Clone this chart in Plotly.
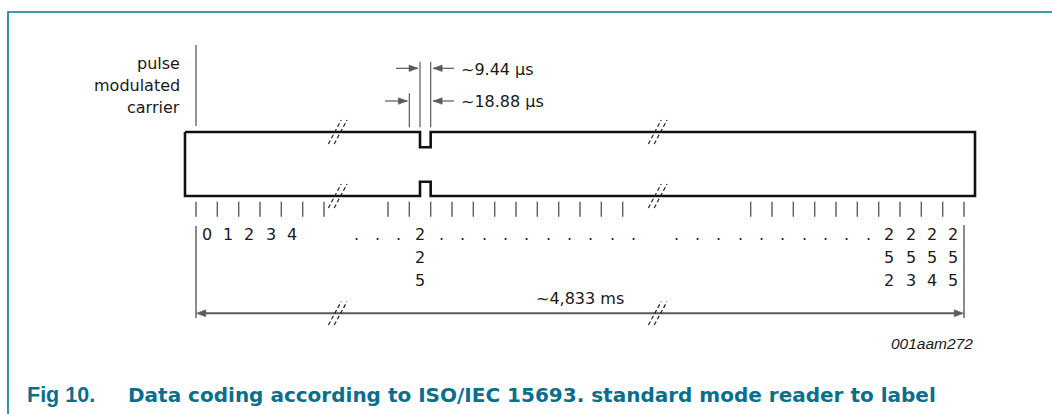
import plotly.graph_objects as go

# ------------------------------------------------------------------ data
first_labels = ["0", "1", "2", "3", "4"]          # first time slots
mid_label = "225"                                 # slot carrying the pulse
last_labels = ["252", "253", "254", "255"]        # last time slots
carrier_label = ["pulse", "modulated", "carrier"]
pulse_texts = ["~9.44 µs", "~18.88 µs"]
total_text = "~4,833 ms"
figure_id = "001aam272"
fig_number = "Fig 10."
fig_title = "Data coding according to ISO/IEC 15693. standard mode reader to label"

# slot grid of the drawing (boundary indices along the time axis)
n_boundaries = 36
first_slot = 0
mid_slot = 10
last_slot = 32
tick_runs = [(0, 6), (9, 20), (26, 36)]
dot_runs = [(7, 9), (11, 20), (22, 31)]

# ------------------------------------------------------------------ layout constants
W, H = 1052, 414
X0, X1 = 196.0, 964.0                 # pixel position of boundary 0 and last boundary
PITCH = (X1 - X0) / n_boundaries


def sx(px):
    """pixel -> slot units (x axis is in slot units)"""
    return (px - X0) / PITCH


BLACK = "#111111"
GRAY = "#5a5a5a"
TEXT = "#1a1a1a"
TEAL = "#007b95"
TITLE_C = "#0a6f8c"
FONT = "DejaVu Sans"
FS = 16

BOX_L, BOX_R = sx(185), sx(975)
BOX_T, BOX_B = 132.0, 196.0
DIP_T, BUMP_B = 147.3, 181.7
BREAK_SLOTS = [sx(337.7), sx(657.7)]
ROW_Y = [234.3, 257.0, 280.0]

fig = go.Figure()


def line(xv, yv, color, width, dash=None):
    fig.add_trace(go.Scatter(x=xv, y=yv, mode="lines",
                             line=dict(color=color, width=width, dash=dash),
                             hoverinfo="skip", showlegend=False))


def head(tip_x, y, direction, color=GRAY, length=9.0, half=3.3):
    bx = tip_x - direction * length / PITCH
    fig.add_trace(go.Scatter(x=[tip_x, bx, bx, tip_x], y=[y, y - half, y + half, y],
                             mode="lines", fill="toself", fillcolor=color,
                             line=dict(color=color, width=0.5),
                             hoverinfo="skip", showlegend=False))


def text(x, y, s, size=FS, xanchor="center", family=FONT, color=TEXT):
    fig.add_annotation(x=x, y=y, text=s, showarrow=False, xanchor=xanchor,
                       yanchor="middle", font=dict(family=family, size=size, color=color),
                       borderpad=0)


def breaks(cx, cy, half_h=12.0):
    dx = 6.4 / PITCH
    for off in (-2.9, 2.9):
        c = cx + off / PITCH
        line([c - dx, c + dx], [cy + half_h, cy - half_h], "#222222", 1.2, "4px,2.5px")


# frame border
line([sx(8), sx(8), sx(W + 5)], [H + 5, 12, 12], TEAL, 1.6)

# carrier envelope
p0 = mid_slot + 0.5
p1 = mid_slot + 1.0
line([BOX_L, p0, p0, p1, p1, BOX_R, BOX_R, p1, p1, p0, p0, BOX_L, BOX_L],
     [BOX_T, BOX_T, DIP_T, DIP_T, BOX_T, BOX_T, BOX_B, BOX_B, BUMP_B, BUMP_B, BOX_B, BOX_B, BOX_T],
     BLACK, 2.6)
for bs in BREAK_SLOTS:
    breaks(bs, BOX_T)
    breaks(bs, BOX_B)

# pointer line for label
line([0, 0], [45, 126], GRAY, 1.3)
for i, s in enumerate(carrier_label):
    text(sx(181), [63.5, 85.4, 107.8][i], s, xanchor="right")

# pulse width dimensions
line([p0, p0, None, p1, p1, None, mid_slot, mid_slot],
     [61.7, 127.3, None, 61.7, 127.3, None, 93.3, 127.3], GRAY, 1.2)
ya, yb = 68.3, 101.0
line([sx(396), p0 - 2.0 / PITCH], [ya, ya], GRAY, 1.2)
head(p0 - 2.0 / PITCH, ya, 1)
line([sx(454), p1 + 2.5 / PITCH], [ya, ya], GRAY, 1.2)
head(p1 + 2.5 / PITCH, ya, -1)
line([sx(385), mid_slot - 2.0 / PITCH], [yb, yb], GRAY, 1.2)
head(mid_slot - 2.0 / PITCH, yb, 1)
line([sx(454), p1 + 2.5 / PITCH], [yb, yb], GRAY, 1.2)
head(p1 + 2.5 / PITCH, yb, -1)
text(sx(460), 69.3, pulse_texts[0], xanchor="left")
text(sx(460), 101.3, pulse_texts[1], xanchor="left")

# slot boundary ticks
tx, ty = [], []
for a, b in tick_runs:
    for k in range(a, b + 1):
        tx += [k, k, None]
        ty += [201.7, 216.7, None]
line(tx, ty, GRAY, 1.4)

# slot labels
for i, s in enumerate(first_labels):
    text(first_slot + i + 0.5, ROW_Y[0], s)
for r, ch in enumerate(mid_label):
    text(mid_slot + 0.5, ROW_Y[r], ch)
for i, lab in enumerate(last_labels):
    for r, ch in enumerate(lab):
        text(last_slot + i + 0.5, ROW_Y[r], ch)
for a, b in dot_runs:
    for k in range(a, b + 1):
        text(k + 0.5, ROW_Y[0], ".")

# overall frame duration
line([0, 0, None, n_boundaries, n_boundaries], [226, 318, None, 225, 318], GRAY, 1.4)
ym = 313.3
line([8.0 / PITCH, n_boundaries - 8.0 / PITCH], [ym, ym], GRAY, 2.0)
head(0.3 / PITCH, ym, -1, length=9.5, half=3.5)
head(n_boundaries - 0.3 / PITCH, ym, 1, length=9.5, half=3.5)
for bs in BREAK_SLOTS:
    breaks(bs, ym, 11.7)
text(sx(580), 298.5, total_text)

# figure id and caption
text(sx(974), 343.6, "<i>" + figure_id + "</i>", size=15.5, xanchor="right",
     family="Liberation Sans")
text(sx(25.5), 394.7, "<b>" + fig_number + "</b>", size=21.5, xanchor="left",
     family="Liberation Sans", color=TITLE_C)
text(sx(127), 394.7, "<b>" + fig_title + "</b>", size=20, xanchor="left",
     family="DejaVu Sans", color=TITLE_C)

fig.update_layout(
    width=W, height=H,
    margin=dict(l=0, r=0, t=0, b=0),
    paper_bgcolor="white", plot_bgcolor="white",
    xaxis=dict(range=[sx(0), sx(W)], visible=False, fixedrange=True),
    yaxis=dict(range=[H, 0], visible=False, fixedrange=True),
    showlegend=False,
)

fig.write_html("out.html", config={"displayModeBar": False},
               post_script="document.body.style.margin='0px';document.body.style.overflow='hidden';")
